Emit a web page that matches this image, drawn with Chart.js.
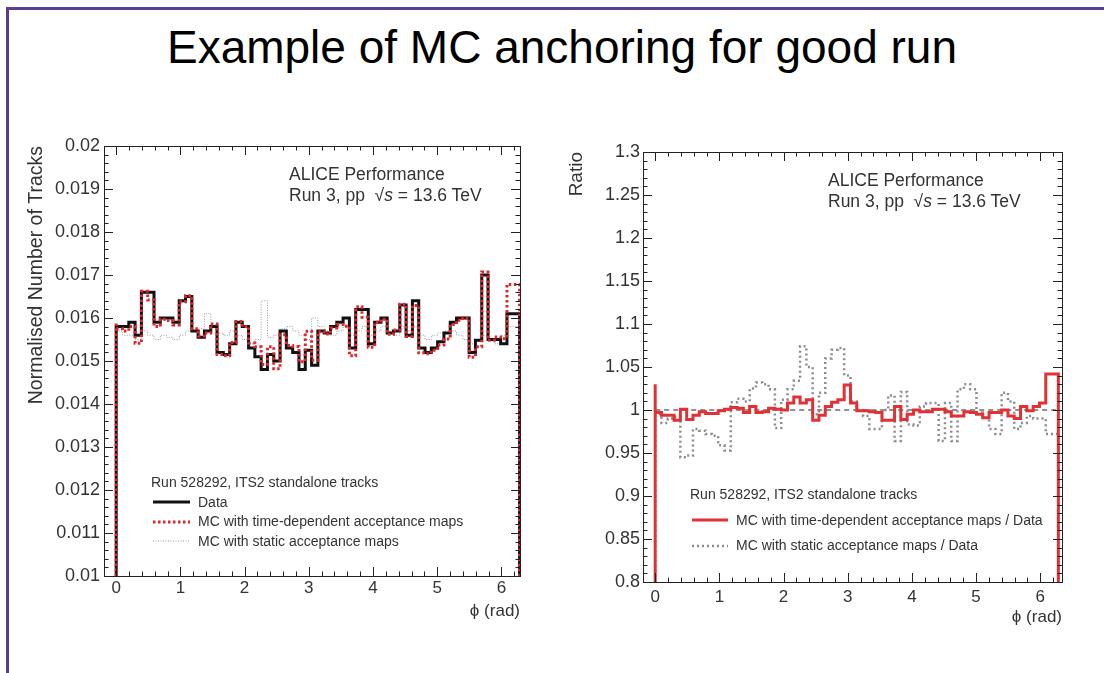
<!DOCTYPE html>
<html>
<head>
<meta charset="utf-8">
<script src="https://cdn.jsdelivr.net/npm/chart.js@4.4.1/dist/chart.umd.min.js"></script>
<style>
  body { margin: 0; width: 1104px; height: 673px; overflow: hidden; background: #fff; position: relative; font-family: 'Liberation Sans', Arial, sans-serif; }
  .frame { position: absolute; left: 6px; top: 7px; width: 1110px; height: 700px; border-left: 3px solid #5b3f8e; border-top: 3px solid #5b3f8e; }
  h1 { position: absolute; left: 0; top: 24px; width: 1124px; margin: 0; text-align: center; font-weight: normal; font-size: 46px; line-height: 46px; color: #000; }
  canvas { position: absolute; top: 0; }
  .note { position: absolute; font-size: 17.5px; line-height: 21px; color: #333; white-space: nowrap; }
  .legend { position: absolute; font-size: 14px; color: #333; white-space: nowrap; }
  .legend .row { display: flex; align-items: center; }
  .legend svg { margin-right: 7px; }
</style>
</head>
<body>
<div class="frame"></div>
<h1>Example of MC anchoring for good run</h1>

<canvas id="leftChart" width="560" height="673" style="left:0"></canvas>
<canvas id="rightChart" width="544" height="673" style="left:560px"></canvas>

<div class="note" style="left:289px; top:164px">ALICE Performance<br>Run 3, pp &nbsp;√<i>s</i> = 13.6 TeV</div>
<div class="note" style="left:828px; top:170px">ALICE Performance<br>Run 3, pp &nbsp;√<i>s</i> = 13.6 TeV</div>

<div class="legend" id="leftLegend" style="left:151px; top:473px; line-height:19.5px"></div>
<div class="legend" id="rightLegend" style="left:690px; top:482px; line-height:25.5px"></div>

<script>
'use strict'

// phi axis
let phiMax = 2 * Math.PI;
let xTicks = [0, 1, 2, 3, 4, 5, 6];

// left plot: normalised number of tracks per phi bin (64 bins)
let dataTracks = [
  0.0154, 0.0158, 0.0158, 0.0159, 0.0156, 0.0166, 0.0166, 0.0159,
  0.0160, 0.0160, 0.0159, 0.0164, 0.0165, 0.0157, 0.01555, 0.0157,
  0.0158, 0.0152, 0.01515, 0.0154, 0.0159, 0.0158, 0.0153, 0.0151,
  0.0148, 0.01515, 0.0150, 0.0157, 0.0153, 0.0152, 0.0148, 0.01525,
  0.0149, 0.0157, 0.01565, 0.0158, 0.0159, 0.0160, 0.0153, 0.0162,
  0.0162, 0.0154, 0.0159, 0.0160, 0.01565, 0.0157, 0.0163, 0.0156,
  0.0164, 0.0153, 0.0152, 0.0153, 0.01545, 0.01565, 0.0159, 0.0160,
  0.0160, 0.0152, 0.01548, 0.0170, 0.0155, 0.0155, 0.0154, 0.0161
];
let mcTimeDep = [
  0.0159, 0.01575, 0.0157, 0.0158, 0.01541, 0.01662, 0.01642, 0.0158,
  0.01597, 0.01594, 0.01584, 0.01638, 0.01652, 0.01575, 0.01558, 0.01565,
  0.01586, 0.01515, 0.01512, 0.01543, 0.01592, 0.0158, 0.01542, 0.01533,
  0.01492, 0.01533, 0.01482, 0.01561, 0.01536, 0.01534, 0.01498, 0.01569,
  0.01502, 0.01568, 0.01563, 0.01577, 0.01585, 0.01581, 0.01512, 0.01626,
  0.01602, 0.01532, 0.0159, 0.01597, 0.01562, 0.01572, 0.01632, 0.01557,
  0.01629, 0.01519, 0.01517, 0.01525, 0.01537, 0.01551, 0.01585, 0.01595,
  0.0160, 0.01509, 0.01533, 0.01707, 0.01548, 0.01556, 0.01552, 0.01678
];
let mcStatic = [
  0.0155, 0.0157, 0.0156, 0.0156, 0.0155, 0.0157, 0.0156, 0.0155,
  0.0156, 0.01555, 0.0155, 0.0156, 0.0157, 0.0157, 0.01575, 0.0161,
  0.0158, 0.01565, 0.0156, 0.0157, 0.0156, 0.0155, 0.0154, 0.0155,
  0.0164, 0.01555, 0.0156, 0.01575, 0.0158, 0.0157, 0.0156, 0.0155,
  0.0160, 0.0158, 0.0157, 0.0156, 0.0157, 0.0158, 0.0156, 0.0157,
  0.0158, 0.0156, 0.0157, 0.0158, 0.0157, 0.0156, 0.0158, 0.0157,
  0.0158, 0.0156, 0.0155, 0.0156, 0.01565, 0.0157, 0.0157, 0.0156,
  0.0155, 0.0154, 0.0155, 0.0156, 0.0155, 0.0154, 0.0156, 0.0158
];
let leftYTicks = [0.01, 0.011, 0.012, 0.013, 0.014, 0.015, 0.016, 0.017, 0.018, 0.019, 0.02];

// right plot: MC / Data ratio (64 bins)
let ratioTimeDep = [
  1.030, 0.997, 0.994, 0.994, 0.988, 1.001, 0.989, 0.994,
  0.998, 0.996, 0.996, 0.999, 1.001, 1.003, 1.002, 0.997,
  1.004, 0.997, 0.998, 1.002, 1.001, 1.000, 1.008, 1.015,
  1.008, 1.012, 0.988, 0.994, 1.004, 1.009, 1.012, 1.029,
  1.008, 0.999, 0.999, 0.998, 0.997, 0.988, 0.988, 1.004,
  0.989, 0.995, 1.000, 0.998, 0.998, 1.001, 1.001, 0.998,
  0.993, 0.993, 0.998, 0.997, 0.995, 0.991, 0.997, 0.997,
  1.000, 0.993, 0.990, 1.004, 0.999, 1.004, 1.008, 1.042
];
let ratioStatic = [
  1.000, 0.995, 0.985, 0.990, 0.992, 0.945, 0.947, 0.978,
  0.976, 0.972, 0.970, 0.959, 0.953, 1.009, 1.013, 1.010,
  1.025, 1.032, 1.030, 1.024, 0.979, 1.012, 1.024, 1.034,
  1.074, 1.050, 0.995, 1.020, 1.060, 1.070, 1.072, 1.040,
  1.010, 1.000, 0.993, 0.978, 0.978, 1.000, 1.017, 0.964,
  1.021, 0.983, 0.982, 1.004, 1.008, 1.008, 0.964, 1.008,
  0.964, 1.024, 1.030, 1.024, 0.997, 0.991, 0.978, 0.972,
  1.020, 1.010, 0.978, 0.985, 0.993, 0.990, 0.990, 0.972
];
let rightYTicks = [0.8, 0.85, 0.9, 0.95, 1, 1.05, 1.1, 1.15, 1.2, 1.25, 1.3];
let ratioRef = 1;

let fontFamily = "'Liberation Sans', Arial, sans-serif";
Chart.defaults.font.family = fontFamily;
Chart.defaults.color = '#333';

// histogram outline: from the baseline up at 0, bin steps, back down at 2pi
function histPoints(values, baseline) {
  let w = phiMax / values.length;
  let pts = [{ x: 0, y: baseline }];
  for (let i = 0; i < values.length; i++) {
    pts.push({ x: i * w, y: values[i] });
  }
  pts.push({ x: phiMax, y: values[values.length - 1] });
  pts.push({ x: phiMax, y: baseline });
  return pts;
}

function tickLabel(v) {
  return String(Number(v.toFixed(4)));
}

// ROOT style frame with inward ticks on all four sides
let rootFrame = {
  id: 'rootFrame',
  afterDraw(chart) {
    let ctx = chart.ctx;
    let a = chart.chartArea;
    let xs = chart.scales.x;
    let ys = chart.scales.y;
    ctx.save();
    ctx.strokeStyle = '#222';
    ctx.lineWidth = 1;
    ctx.strokeRect(a.left + 0.5, a.top + 0.5, a.right - a.left, a.bottom - a.top);

    function marks(scale, majors, nSub) {
      let step = majors[1] - majors[0];
      let out = [];
      let start = majors[0] - step;
      for (let k = 0; k <= (majors.length + 1) * nSub; k++) {
        let v = start + k * step / nSub;
        if (v < scale.min - 1e-9 || v > scale.max + 1e-9) continue;
        out.push({ v: v, major: k % nSub === 0 });
      }
      return out;
    }
    ctx.beginPath();
    marks(xs, chart.options.plugins.rootFrame.xMajor, 5).forEach(function (m) {
      let px = Math.round(xs.getPixelForValue(m.v)) + 0.5;
      let len = m.major ? 9 : 4.5;
      ctx.moveTo(px, a.bottom); ctx.lineTo(px, a.bottom - len);
      ctx.moveTo(px, a.top); ctx.lineTo(px, a.top + len);
    });
    marks(ys, chart.options.plugins.rootFrame.yMajor, 5).forEach(function (m) {
      let py = Math.round(ys.getPixelForValue(m.v)) + 0.5;
      let len = m.major ? 9 : 4.5;
      ctx.moveTo(a.left, py); ctx.lineTo(a.left + len, py);
      ctx.moveTo(a.right, py); ctx.lineTo(a.right - len, py);
    });
    ctx.stroke();
    ctx.restore();
  }
};

function makeOptions(cfg) {
  return {
    responsive: false,
    animation: false,
    layout: { padding: { left: 0, right: cfg.padRight, top: cfg.padTop, bottom: cfg.padBottom } },
    plugins: {
      legend: { display: false },
      tooltip: { enabled: false },
      rootFrame: { xMajor: xTicks, yMajor: cfg.yTicks }
    },
    scales: {
      x: {
        type: 'linear',
        min: -0.19,
        max: cfg.xMax,
        grid: { display: false, drawTicks: false },
        border: { display: false },
        afterBuildTicks: function (scale) { scale.ticks = xTicks.map(v => ({ value: v })); },
        afterFit: function (scale) { scale.height = 50; },
        ticks: { padding: cfg.xPad, font: { size: 17 }, color: '#333', maxRotation: 0, autoSkip: false, callback: tickLabel },
        title: { display: true, text: 'ϕ (rad)', align: 'end', font: { size: 17 }, color: '#333', padding: { top: 0, bottom: 4.8 } }
      },
      y: {
        type: 'linear',
        min: cfg.yTicks[0],
        max: cfg.yTicks[cfg.yTicks.length - 1],
        grid: { display: false, drawTicks: false },
        border: { display: false },
        afterBuildTicks: function (scale) { scale.ticks = cfg.yTicks.map(v => ({ value: v })); },
        afterFit: function (scale) { scale.width = cfg.yWidth; },
        ticks: { padding: cfg.yPad, font: { size: 18 }, color: '#333', autoSkip: false, callback: tickLabel },
        title: { display: true, text: cfg.yTitle, align: 'end', font: { size: cfg.yTitleSize }, color: '#333', padding: { top: cfg.yTitlePad, bottom: 0 } }
      }
    }
  };
}

let lineBase = { pointRadius: 0, fill: false, stepped: 'after', tension: 0 };

let leftChart = new Chart(document.getElementById('leftChart').getContext('2d'), {
  type: 'line',
  data: {
    datasets: [
      Object.assign({ label: 'Data', data: histPoints(dataTracks, leftYTicks[0]), borderColor: '#111', borderWidth: 3, order: 1 }, lineBase),
      Object.assign({ label: 'MC with time-dependent acceptance maps', data: histPoints(mcTimeDep, leftYTicks[0]), borderColor: '#e0262a', borderWidth: 3, borderDash: [2.5, 2.5], order: 0 }, lineBase),
      Object.assign({ label: 'MC with static acceptance maps', data: histPoints(mcStatic, leftYTicks[0]), borderColor: '#9a9a9a', borderWidth: 1, borderDash: [1, 1.5], order: 2 }, lineBase)
    ]
  },
  options: makeOptions({ padRight: 40, padTop: 146, padBottom: 47, yWidth: 104, yPad: 4, xPad: 2, yTicks: leftYTicks, xMax: 6.29, yTitle: 'Normalised Number of Tracks', yTitleSize: 19.5, yTitlePad: 25 }),
  plugins: [rootFrame]
});

let rightChart = new Chart(document.getElementById('rightChart').getContext('2d'), {
  type: 'line',
  data: {
    datasets: [
      Object.assign({ label: 'MC with time-dependent acceptance maps / Data', data: histPoints(ratioTimeDep, rightYTicks[0]), borderColor: '#e03236', borderWidth: 3, order: 0 }, lineBase),
      Object.assign({ label: 'MC with static acceptance maps / Data', data: histPoints(ratioStatic, rightYTicks[0]), borderColor: '#8c8c8c', borderWidth: 2.5, borderDash: [2, 3], order: 1 }, lineBase),
      Object.assign({ label: 'ref', data: [{ x: 0, y: ratioRef }, { x: phiMax, y: ratioRef }], borderColor: '#222', borderWidth: 1, borderDash: [5, 4], order: 2, noLegend: true }, lineBase)
    ]
  },
  options: makeOptions({ padRight: 42, padTop: 152, padBottom: 41, yWidth: 83, yPad: 3, xPad: 5, yTicks: rightYTicks, xMax: 6.34, yTitle: 'Ratio', yTitleSize: 19, yTitlePad: 5.6 }),
  plugins: [rootFrame]
});

// html legend in ROOT style, built from the chart datasets
function buildLegend(chart, el, header, sampleW) {
  let html = '<div class="row">' + header + '</div>';
  chart.data.datasets.forEach(function (ds) {
    if (ds.noLegend) return;
    let dash = ds.borderDash ? ds.borderDash.join(',') : 'none';
    html += '<div class="row"><svg width="' + (sampleW + 3) + '" height="8">' +
      '<line x1="2" y1="4" x2="' + (sampleW + 2) + '" y2="4" stroke="' + ds.borderColor + '" stroke-width="' + ds.borderWidth + '" stroke-dasharray="' + dash + '"/></svg>' +
      ds.label + '</div>';
  });
  el.innerHTML = html;
}

buildLegend(leftChart, document.getElementById('leftLegend'), 'Run 528292, ITS2 standalone tracks', 37);
buildLegend(rightChart, document.getElementById('rightLegend'), 'Run 528292, ITS2 standalone tracks', 36);
</script>
</body>
</html>
